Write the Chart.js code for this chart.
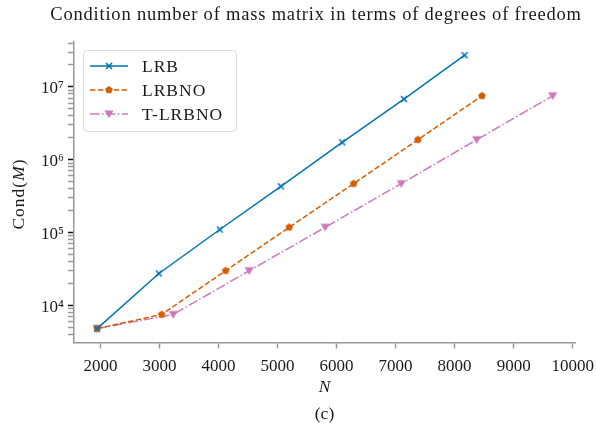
<!DOCTYPE html>
<html>
<head>
<meta charset="utf-8">
<script src="https://cdn.jsdelivr.net/npm/chart.js@4.4.1/dist/chart.umd.min.js"></script>
<style>
  html, body { margin: 0; padding: 0; background: #fff; }
</style>
</head>
<body>
<canvas id="myChart" width="596" height="430"></canvas>
<script>
// degrees of freedom N and condition number of M
const nLRB = [1942, 2988, 4022, 5056, 6095, 7141, 8169];
const condLRB = [4.8e3, 2.74e4, 1.10e5, 4.31e5, 1.73e6, 6.79e6, 2.72e7];

const nLRBNO = [1942, 3034, 4119, 5197, 6288, 7378, 8463];
const condLRBNO = [4.8e3, 7.5e3, 2.99e4, 1.18e5, 4.69e5, 1.88e6, 7.53e6];

const nTLRBNO = [1942, 3231, 4519, 5807, 7095, 8373, 9661];
const condTLRBNO = [4.8e3, 7.5e3, 2.99e4, 1.18e5, 4.69e5, 1.88e6, 7.53e6];

const seriesNames = ["LRB", "LRBNO", "T-LRBNO"];
const xTicks = [2000, 3000, 4000, 5000, 6000, 7000, 8000, 9000, 10000];
const yDecades = [3, 4, 5, 6, 7];

const titleText = 'Condition number of mass matrix in terms of degrees of freedom';
const serif = "'Liberation Serif', 'DejaVu Serif', serif";
const sup = { "3": "\u00b3", "4": "\u2074", "5": "\u2075", "6": "\u2076", "7": "\u2077" };

function isDecade(v) {
    const l = Math.log10(v);
    return Math.abs(l - Math.round(l)) < 1e-9;
}

function makeMarker(kind, color) {
    const c = document.createElement('canvas');
    c.width = 14;
    c.height = 14;
    const g = c.getContext('2d');
    const m = 7;
    g.fillStyle = color;
    g.strokeStyle = color;
    g.lineWidth = 1.6;
    g.beginPath();
    if (kind === 'x') {
        const r = 3;
        g.moveTo(m - r, m - r); g.lineTo(m + r, m + r);
        g.moveTo(m - r, m + r); g.lineTo(m + r, m - r);
        g.stroke();
    } else if (kind === 'pentagon') {
        const r = 4;
        for (let i = 0; i < 5; i++) {
            const a = (-90 + 72 * i) * Math.PI / 180;
            const px = m + r * Math.cos(a), py = m + r * Math.sin(a);
            if (i === 0) g.moveTo(px, py); else g.lineTo(px, py);
        }
        g.closePath();
        g.fill();
    } else {
        g.moveTo(m - 4.6, m - 3.6);
        g.lineTo(m + 4.6, m - 3.6);
        g.lineTo(m, m + 4.2);
        g.closePath();
        g.fill();
    }
    return c;
}

const colors = ['#0173b2', '#d55e00', '#cc78bc'];
const dashes = [[], [5.5, 2.4], [9.6, 2.4, 1.5, 2.4]];
const markers = [makeMarker('x', colors[0]), makeMarker('pentagon', colors[1]), makeMarker('tri', colors[2])];
const xs = [nLRB, nLRBNO, nTLRBNO];
const ys = [condLRB, condLRBNO, condTLRBNO];

const datasets = seriesNames.map((name, i) => ({
    label: name,
    data: xs[i].map((x, j) => ({ x: x, y: ys[i][j] })),
    borderColor: colors[i],
    backgroundColor: colors[i],
    borderWidth: 1.5,
    borderDash: dashes[i],
    pointStyle: markers[i],
    pointRadius: 4,
    tension: 0,
    fill: false,
}));

// legend box in the upper left, line sample + marker + name
const legendBox = {
    id: 'legendBox',
    afterDraw(chart) {
        const ctx = chart.ctx;
        const x0 = 83.5, y0 = 50.5, w = 153, h = 81, r = 4;
        ctx.save();
        ctx.beginPath();
        ctx.moveTo(x0 + r, y0);
        ctx.arcTo(x0 + w, y0, x0 + w, y0 + h, r);
        ctx.arcTo(x0 + w, y0 + h, x0, y0 + h, r);
        ctx.arcTo(x0, y0 + h, x0, y0, r);
        ctx.arcTo(x0, y0, x0 + w, y0, r);
        ctx.closePath();
        ctx.fillStyle = 'rgba(255,255,255,0.85)';
        ctx.fill();
        ctx.strokeStyle = '#dcdcdc';
        ctx.lineWidth = 1;
        ctx.stroke();
        chart.data.datasets.forEach((ds, i) => {
            const yy = 66 + i * 24;
            ctx.beginPath();
            ctx.setLineDash(ds.borderDash);
            ctx.strokeStyle = ds.borderColor;
            ctx.lineWidth = ds.borderWidth;
            ctx.moveTo(90, yy);
            ctx.lineTo(128, yy);
            ctx.stroke();
            ctx.setLineDash([]);
            ctx.drawImage(ds.pointStyle, 109 - 7, yy - 7);
            ctx.fillStyle = '#1a1a1a';
            ctx.font = '17.5px ' + serif;
            ctx.letterSpacing = '1px';
            ctx.textBaseline = 'middle';
            ctx.textAlign = 'left';
            ctx.fillText(ds.label, 142, yy + 1);
            ctx.letterSpacing = '0px';
        });
        ctx.restore();
    }
};

// figure title (centred on the figure as in the original) and y axis title Cond(M) with italic M
const texts = {
    id: 'texts',
    afterDraw(chart) {
        const ctx = chart.ctx;
        ctx.save();
        ctx.fillStyle = '#1a1a1a';
        ctx.textBaseline = 'middle';
        ctx.textAlign = 'center';
        ctx.font = '18.5px ' + serif;
        ctx.letterSpacing = '0.8px';
        ctx.fillText(titleText, 316, 15);

        const parts = [['Cond(', '17.5px '], ['M', 'italic 17.5px '], [')', '17.5px ']];
        ctx.letterSpacing = '1px';
        let total = 0;
        parts.forEach(p => { ctx.font = p[1] + serif; total += ctx.measureText(p[0]).width; });
        ctx.translate(19, 194);
        ctx.rotate(-Math.PI / 2);
        ctx.textAlign = 'left';
        let x = -total / 2;
        parts.forEach(p => {
            ctx.font = p[1] + serif;
            ctx.fillText(p[0], x, 0);
            x += ctx.measureText(p[0]).width;
        });
        ctx.restore();
    }
};

const Mychart = document.getElementById('myChart');

new Chart(Mychart, {
    type: 'line',
    data: { datasets: datasets },
    options: {
        responsive: false,
        animation: false,
        layout: { padding: { left: 0, right: 21, top: 42, bottom: 0 } },
        plugins: {
            legend: { display: false },
            tooltip: { enabled: false },
            title: { display: false },
            subtitle: {
                display: true,
                text: '(c)',
                position: 'bottom',
                fullSize: false,
                color: '#1a1a1a',
                font: { family: serif, size: 17.5, weight: 'normal' },
                padding: { top: 0, bottom: 5 },
            },
        },
        scales: {
            x: {
                type: 'linear',
                min: 1550,
                max: 10040,
                afterBuildTicks: (s) => { s.ticks = xTicks.map(v => ({ value: v })); },
                afterFit: (s) => { s.height = 61.6; s.paddingLeft = 0; s.paddingRight = 0; },
                ticks: {
                    autoSkip: false,
                    maxRotation: 0,
                    padding: 8,
                    color: '#1a1a1a',
                    font: { family: serif, size: 17 },
                    callback: (v) => String(v),
                },
                grid: {
                    drawOnChartArea: false,
                    drawTicks: true,
                    tickLength: 6,
                    tickColor: '#999999',
                    tickWidth: 1.5,
                },
                border: { display: true, color: '#999999', width: 1.5 },
                title: {
                    display: true,
                    text: 'N',
                    color: '#1a1a1a',
                    font: { family: serif, size: 17.5, style: 'italic' },
                    padding: { top: 0, bottom: 6 },
                },
            },
            y: {
                type: 'logarithmic',
                min: 3100,
                max: 4.13e7,
                afterBuildTicks: (s) => {
                    const t = [];
                    yDecades.forEach(e => {
                        for (let m = 1; m < 10; m++) {
                            const v = m * Math.pow(10, e);
                            if (v >= s.min && v <= s.max) t.push({ value: v });
                        }
                    });
                    s.ticks = t;
                },
                afterFit: (s) => { s.width = 74; s.paddingTop = 0; s.paddingBottom = 0; },
                ticks: {
                    autoSkip: false,
                    padding: 4,
                    labelOffset: 2,
                    color: '#1a1a1a',
                    font: { family: serif, size: 17 },
                    callback: (v) => isDecade(v) ? '10' + sup[String(Math.round(Math.log10(v)))] : '',
                },
                grid: {
                    drawOnChartArea: false,
                    drawTicks: true,
                    tickLength: 6,
                    tickColor: (c) => (c.tick && isDecade(c.tick.value)) ? '#111111' : '#999999',
                    tickWidth: 1.5,
                },
                border: { display: true, color: '#999999', width: 1.5 },
            },
        },
    },
    plugins: [legendBox, texts],
});
</script>
</body>
</html>
